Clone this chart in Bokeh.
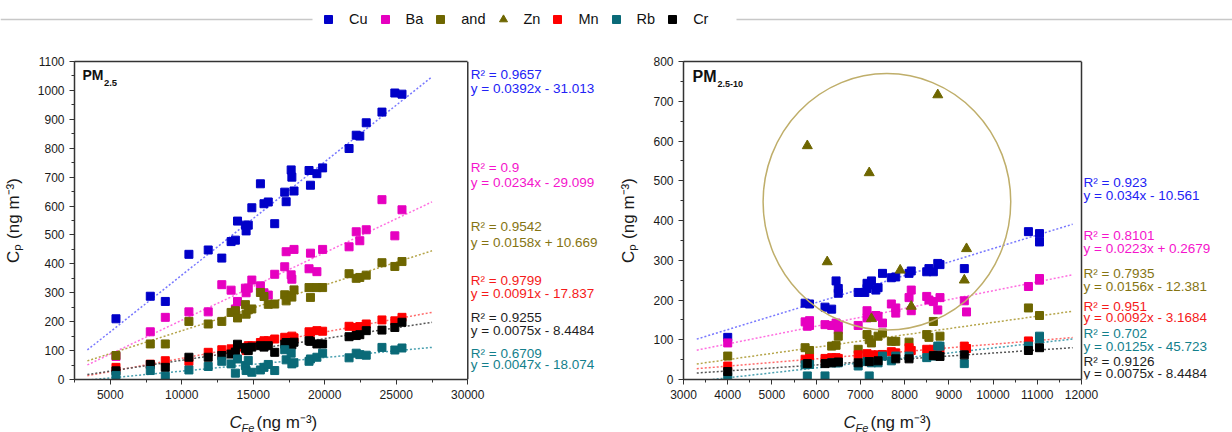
from bokeh.plotting import figure
from bokeh.models import (Label, Legend, LegendItem, SingleIntervalTicker, Range1d, LinearAxis,
                          FixedTicker, Span)
from bokeh.layouts import column, row
from bokeh.embed import file_html
from bokeh.resources import INLINE

FONT = "Liberation Sans"

# ---------------- data ----------------
elements = ["Cu", "Ba", "and", "Zn", "Mn", "Rb", "Cr"]

# PM2.5 panel (shared Fe concentrations)
fe_pm25 = [5400, 7800, 8850, 10500, 11850, 12800, 13450, 13750, 13900, 14450, 14500,
           14650, 14900, 15500, 15750, 16050, 16500, 17200, 17300, 17650, 17700, 17850,
           18900, 19000, 19450, 19850, 21700, 22200, 22450, 22900, 24000, 24900, 25400]
cu_pm25 = [210, 288, 270, 433, 448, 420, 477, 482, 548, 534, 514, 534, 594, 677, 608, 614,
           539, 648, 615, 725, 700, 652, 723, 672, 712, 732, 799, 845, 842, 888, 925, 991, 987]
ba_pm25 = [80, 165, 215, 234, 234, 328, 309, 244, 270, 316, 300, 316, 344, 324, 300, 292,
           364, 390, 442, 362, 347, 450, 383, 437, 373, 450, 459, 511, 480, 518, 622, 497, 587]
and_pm25 = [83, 123, 123, 201, 192, 201, 232, 238, 213, 259, 226, 241, 244, 301, 287, 260,
            261, 293, 272, 290, 285, 310, 318, 284, 318, 318, 366, 350, 353, 361, 404, 391, 408]
mn_pm25 = [42, 53, 65, 63, 94, 103, 106, 102, 112, 111, 100, 117, 117, 128, 134, 134, 140,
           146, 140, 144, 150, 144, 165, 163, 169, 167, 184, 180, 183, 192, 206, 203, 215]
cr_pm25 = [30, 52, 42, 77, 77, 83, 88, 95, 122, 106, 110, 100, 112, 117, 112, 117, 94, 122,
           128, 126, 120, 129, 134, 132, 123, 123, 148, 152, 155, 169, 171, 180, 198]
rb_pm25 = [14, 31, 11, 33, 45, 63, 54, 22, 71, 48, 31, 66, 25, 33, 42, 52, 31, 103, 68, 91,
           54, 58, 63, 71, 77, 91, 75, 91, 86, 84, 111, 102, 109]

fit_el_pm25 = ["Cu", "Ba", "and", "Mn", "Cr", "Rb"]
r2_pm25 = ["0.9657", "0.9", "0.9542", "0.9799", "0.9255", "0.6709"]
slope_pm25 = [0.0392, 0.0234, 0.0158, 0.0091, 0.0075, 0.0047]
icpt_pm25 = [-31.013, -29.099, 10.669, -17.837, -8.4484, -18.074]

# PM2.5-10 panel
cu_x_pm10 = [4000, 5750, 5850, 6200, 6350, 6450, 6500, 6500, 6950, 7100, 7150, 7200, 7150,
             7250, 7350, 7400, 7500, 7700, 7800, 8100, 8150, 8500, 8550, 8650, 8750, 8800,
             9350, 10800, 11050, 11050]
cu_y_pm10 = [106, 192, 190, 182, 177, 248, 229, 217, 219, 219, 242, 238, 229, 248, 225, 231,
             267, 256, 258, 267, 273, 271, 279, 271, 292, 289, 279, 372, 367, 346]
ba_x_pm10 = [4000, 5750, 5800, 5850, 5850, 6200, 6350, 6450, 6500, 6500, 6950, 7150, 7150,
             7250, 7350, 7400, 7500, 7700, 7800, 7800, 8100, 8150, 8150, 8500, 8550, 8650,
             8750, 8800, 9350, 9400, 10800, 11050, 11050]
ba_y_pm10 = [92, 145, 134, 136, 148, 138, 136, 142, 134, 125, 136, 173, 155, 159, 161, 159,
             142, 190, 180, 167, 206, 225, 173, 209, 200, 196, 175, 206, 198, 170, 234, 250, 254]
and_x_pm10 = [4000, 5750, 5850, 6350, 6450, 6500, 6950, 7150, 7200, 7250, 7400, 7500, 7700,
              7800, 8100, 8500, 8550, 8650, 8800, 10800, 11050]
and_y_pm10 = [59, 80, 73, 84, 86, 109, 76, 113, 100, 92, 109, 117, 96, 96, 94, 113, 106, 146,
              109, 180, 161]
zn_x_pm10 = [5800, 6250, 7200, 7250, 7900, 8150, 8750, 9350, 9400]
zn_y_pm10 = [588, 296, 520, 153, 275, 184, 716, 250, 329]
mn_x_pm10 = [4000, 5750, 5850, 6200, 6350, 6450, 6500, 6950, 7150, 7250, 7400, 7500, 7700,
             7800, 8100, 8150, 8500, 8650, 8750, 8800, 9350, 9400, 10800, 11050]
mn_y_pm10 = [34, 51, 53, 53, 55, 55, 53, 62, 65, 62, 62, 63, 70, 67, 80, 73, 76, 76, 78, 76,
             84, 78, 97, 106]
rb_x_pm10 = [4000, 5750, 5850, 5800, 6200, 6350, 6450, 6500, 6950, 7150, 7200, 7250, 7400,
             7500, 7700, 7800, 8100, 8500, 8650, 8750, 8800, 9350, 10800, 11050, 11050]
rb_y_pm10 = [7, 37, 38, 9, 9, 42, 42, 42, 34, 45, 9, 42, 42, 59, 47, 59, 59, 55, 59, 84, 84,
             40, 84, 103, 109]
cr_x_pm10 = [4000, 5800, 6200, 6350, 6500, 6950, 7200, 7400, 7800, 8100, 8650, 8750, 8800,
             9350, 10800, 11050]
cr_y_pm10 = [20, 40, 40, 42, 44, 42, 45, 47, 52, 52, 60, 60, 58, 62, 73, 80]

fit_el_pm10 = ["Cu", "Ba", "and", "Mn", "Rb", "Cr"]
r2_pm10 = ["0.923", "0.8101", "0.7935", "0.951", "0.702", "0.9126"]
slope_pm10 = [0.034, 0.0223, 0.0156, 0.0092, 0.0125, 0.0075]
icpt_pm10 = [-10.561, 0.2679, -12.381, -3.1684, -45.723, -8.4484]

# ---------------- styles / layout ----------------
MARK = {"Cu": "#0000c8", "Ba": "#e600c0", "and": "#6e6600", "Zn": "#6e6600",
        "Mn": "#ff0000", "Rb": "#0a6a78", "Cr": "#000000"}
TXT = {"Cu": "#2222f5", "Ba": "#f514cc", "and": "#857412", "Mn": "#f51a1a",
       "Rb": "#137f8c", "Cr": "#1e1e1e"}
LINE = {"Cu": "#7878ff", "Ba": "#ff6ee0", "and": "#b5a54a", "Mn": "#ff6a6a",
        "Rb": "#4aa0b0", "Cr": "#555555"}
MARKER = {"Zn": "triangle"}
AXC = "#333333"

W, H = 1232, 432
TOP_H = 48          # legend strip height
ROW_BOTTOM = 408    # bottom of panels (page px)
SPLIT = 615         # x where right panel figure starts

FRAME_L = (73, 60, 467, 379)      # page pixel box of the axes (left, top, right, bottom)
FRAME_R = (683, 61, 1081, 382)
XB_L, YR_L = (2500, 30000), (0, 1100)
XB_R, YR_R = (3000, 12000), (0, 800)
FIT_SPAN_L = (3400, 27500)
FIT_SPAN_R = (3300, 11800)
ANN_L = (470, [(72.7, 87.3), (166.7, 181), (226, 241.7), (280, 292.7), (316.7, 330), (352.7, 364)])
ANN_R = (1083, [(183.3, 196), (236.7, 249.3), (275, 288.3), (308.3, 319.3), (336, 348.3), (364, 376)])
ZN_RING = dict(x=7600, y=447, w=5600, h=645)


def px2data(frame, xb, yr, px, py):
    fl, ft, fr, fb = frame
    x = xb[0] + (px - fl) / (fr - fl) * (xb[1] - xb[0])
    y = yr[0] + (fb - py) / (fb - ft) * (yr[1] - yr[0])
    return x, y


def make_panel(x0, x1, frame, xb, yr, xstep, ystep):
    fl, ft, fr, fb = frame
    x_end = px2data(frame, xb, yr, x1, 0)[0]
    p = figure(width=x1 - x0, height=ROW_BOTTOM - TOP_H,
               x_range=Range1d(xb[0], x_end), y_range=Range1d(*yr),
               toolbar_location=None, output_backend="svg",
               min_border_left=fl - x0, min_border_right=0,
               min_border_top=ft - TOP_H, min_border_bottom=ROW_BOTTOM - fb)
    p.xgrid.visible = False
    p.ygrid.visible = False
    p.outline_line_color = None
    p.xaxis.ticker = SingleIntervalTicker(interval=xstep, num_minor_ticks=2)
    p.yaxis.ticker = SingleIntervalTicker(interval=ystep, num_minor_ticks=2)
    p.xaxis.bounds = xb
    for ax in p.axis:
        ax.axis_line_color = AXC
        ax.axis_line_width = 1.5
        ax.major_tick_out = 5
        ax.major_tick_in = 0
        ax.minor_tick_out = 3
        ax.minor_tick_in = 0
        ax.major_tick_line_color = AXC
        ax.minor_tick_line_color = AXC
        ax.major_label_text_font = FONT
        ax.major_label_text_font_size = "12px"
        ax.major_label_text_color = "#1a1a1a"
        ax.major_label_standoff = 5
    p.yaxis.axis_label = "Cₚ (ng m⁻³)"
    p.yaxis.axis_label_text_font = FONT
    p.yaxis.axis_label_text_font_size = "17px"
    p.yaxis.axis_label_text_font_style = "normal"
    p.yaxis.axis_label_text_color = "#1a1a1a"
    p.yaxis.axis_label_standoff = 12
    # box: top edge and right edge
    p.add_layout(LinearAxis(ticker=FixedTicker(ticks=[]), bounds=xb, axis_line_color=AXC,
                            axis_line_width=1.5, major_tick_out=0, major_tick_in=0,
                            minor_tick_out=0, minor_tick_in=0, major_label_standoff=0,
                            major_label_text_font_size="0px"), "above")
    p.add_layout(Span(location=xb[1], dimension="height", line_color=AXC, line_width=1.5))
    return p


def add_fits(p, frame, xb, yr, span, els, r2s, slopes, icpts, ann):
    xs = list(span)
    for el, m, b in zip(els, slopes, icpts):
        p.line(xs, [m * x + b for x in xs], line_color=LINE[el], line_width=1.5,
               line_dash="2 2")
    ax, ys = ann
    for el, r2, m, b, (y1, y2) in zip(els, r2s, slopes, icpts, ys):
        sign = "+" if b >= 0 else "-"
        for txt, py in ((f"R² = {r2}", y1), (f"y = {m}x {sign} {abs(b)}", y2)):
            x, y = px2data(frame, xb, yr, ax, py)
            p.add_layout(Label(x=x, y=y, text=txt, text_font=FONT, text_font_size="13.5px",
                               text_color=TXT[el], text_baseline="middle", text_align="left"))


def add_pm(p, frame, xb, yr, pm_pos, pm_sizes, sub):
    x, y = px2data(frame, xb, yr, pm_pos[0], pm_pos[1])
    p.add_layout(Label(x=x, y=y, text="PM", text_font=FONT, text_font_style="bold",
                       text_font_size=pm_sizes[0], text_baseline="middle", text_color="#111111"))
    x, y = px2data(frame, xb, yr, pm_pos[2], pm_pos[3])
    p.add_layout(Label(x=x, y=y, text=sub, text_font=FONT, text_font_style="bold",
                       text_font_size=pm_sizes[1], text_baseline="middle", text_color="#111111"))


# ---------------- left panel: PM2.5 ----------------
left = make_panel(0, SPLIT, FRAME_L, XB_L, YR_L, 5000, 100)
add_fits(left, FRAME_L, XB_L, YR_L, FIT_SPAN_L, fit_el_pm25, r2_pm25, slope_pm25,
         icpt_pm25, ANN_L)
series_pm25 = {"Cu": cu_pm25, "Ba": ba_pm25, "and": and_pm25, "Mn": mn_pm25,
               "Cr": cr_pm25, "Rb": rb_pm25}
for el, ys in series_pm25.items():
    left.scatter(fe_pm25, ys, marker="square", size=8, fill_color=MARK[el],
                 line_color=MARK[el])
add_pm(left, FRAME_L, XB_L, YR_L, (81, 74, 102.5, 81.5), ("14px", "9.5px"), "2.5")

# ---------------- right panel: PM2.5-10 ----------------
right = make_panel(SPLIT, W, FRAME_R, XB_R, YR_R, 1000, 100)
add_fits(right, FRAME_R, XB_R, YR_R, FIT_SPAN_R, fit_el_pm10, r2_pm10, slope_pm10,
         icpt_pm10, ANN_R)
series_pm10 = {"Cu": (cu_x_pm10, cu_y_pm10), "Ba": (ba_x_pm10, ba_y_pm10),
               "and": (and_x_pm10, and_y_pm10), "Mn": (mn_x_pm10, mn_y_pm10),
               "Rb": (rb_x_pm10, rb_y_pm10), "Cr": (cr_x_pm10, cr_y_pm10),
               "Zn": (zn_x_pm10, zn_y_pm10)}
for el, (xs, ys) in series_pm10.items():
    mk = MARKER.get(el, "square")
    right.scatter(xs, ys, marker=mk, size=10 if mk == "triangle" else 8,
                  fill_color=MARK[el], line_color=MARK[el])
right.ellipse(x=[ZN_RING["x"]], y=[ZN_RING["y"]], width=[ZN_RING["w"]],
              height=[ZN_RING["h"]], fill_alpha=0, line_color="#bfae6a", line_width=1.5)
add_pm(right, FRAME_R, XB_R, YR_R, (692, 76, 717, 84), ("16px", "9px"), "2.5-10")

# ---------------- legend strip ----------------
top = figure(width=W, height=TOP_H, x_range=Range1d(0, W), y_range=Range1d(0, TOP_H),
             toolbar_location=None, output_backend="svg", min_border=0)
top.axis.visible = False
top.xgrid.visible = False
top.ygrid.visible = False
top.outline_line_color = None
top.segment(x0=[0, 736], x1=[312, W], y0=[TOP_H - 19] * 2, y1=[TOP_H - 19] * 2,
            line_color="#c8c8c8", line_width=1.5)
legend_data = {"Cu": (fe_pm25, cu_pm25), "Ba": (fe_pm25, ba_pm25), "and": (fe_pm25, and_pm25),
               "Zn": (zn_x_pm10, zn_y_pm10), "Mn": (fe_pm25, mn_pm25),
               "Rb": (fe_pm25, rb_pm25), "Cr": (fe_pm25, cr_pm25)}
items = []
for el in elements:
    xs, ys = legend_data[el]   # all outside this strip's pixel range: only the legend shows
    r = top.scatter(xs, ys, marker=MARKER.get(el, "square"), fill_color=MARK[el],
                    line_color=MARK[el], size=8)
    items.append(LegendItem(label=el, renderers=[r]))
leg = Legend(items=items, orientation="horizontal", location=(318, TOP_H - 29), padding=0,
             margin=0, spacing=7, glyph_width=20, glyph_height=20, label_standoff=11,
             label_width=0, label_height=20, label_text_font=FONT,
             label_text_font_size="14.5px", label_text_color="#111111",
             border_line_color=None, background_fill_alpha=0)
top.add_layout(leg)

# ---------------- x-axis titles strip ----------------
BOT_H = H - ROW_BOTTOM
bottom = figure(width=W, height=BOT_H, x_range=Range1d(0, W), y_range=Range1d(0, BOT_H),
                toolbar_location=None, output_backend="svg", min_border=0)
bottom.axis.visible = False
bottom.xgrid.visible = False
bottom.ygrid.visible = False
bottom.outline_line_color = None
for cx in (229, 843):
    yc = H - 422
    bottom.add_layout(Label(x=cx, y=yc, text="C", text_font=FONT, text_font_style="italic",
                            text_font_size="17px", text_baseline="middle", text_color="#1a1a1a"))
    bottom.add_layout(Label(x=cx + 12, y=yc - 5, text="Fe", text_font=FONT,
                            text_font_style="italic", text_font_size="11px",
                            text_baseline="middle", text_color="#1a1a1a"))
    bottom.add_layout(Label(x=cx + 27, y=yc, text="(ng m⁻³)", text_font=FONT,
                            text_font_size="17px", text_baseline="middle", text_color="#1a1a1a"))

layout = column(top, row(left, right), bottom)
open("out.html", "w").write(file_html(layout, INLINE))
